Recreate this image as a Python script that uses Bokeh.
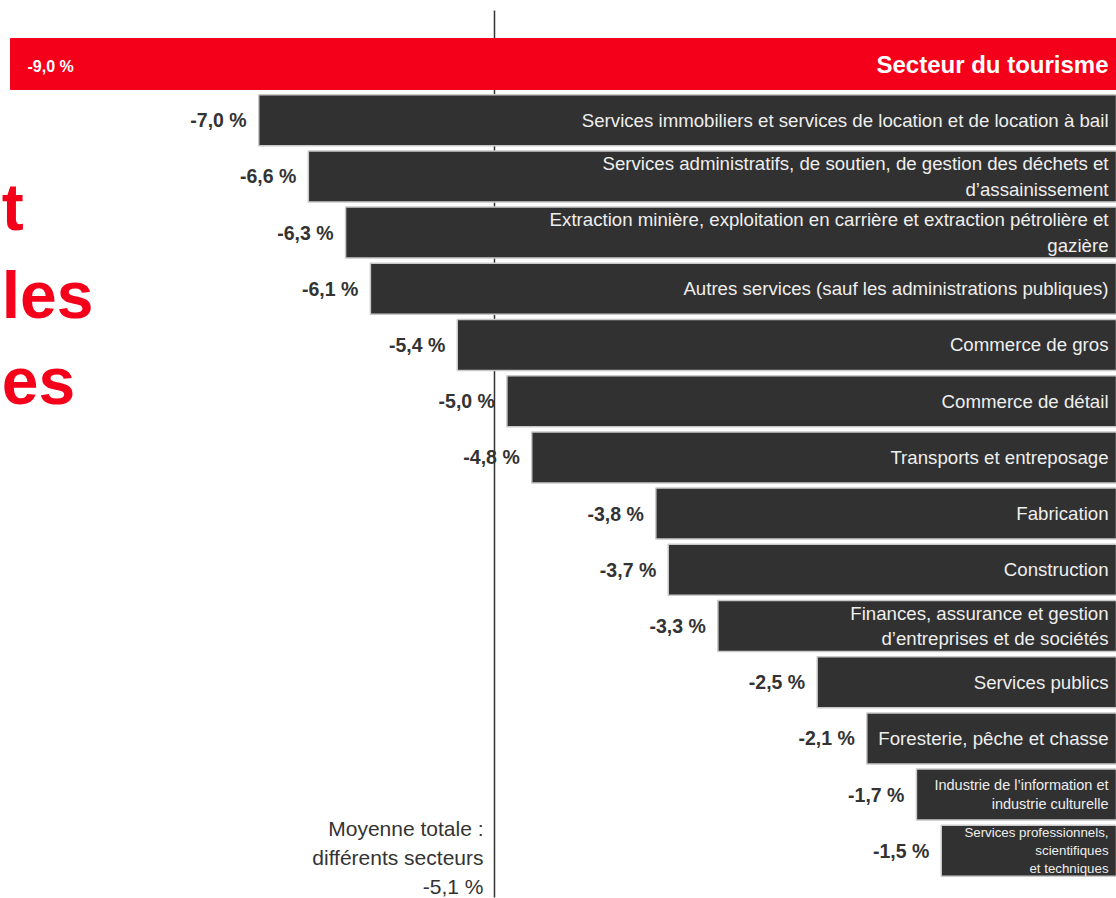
from bokeh.plotting import figure
from bokeh.models import ColumnDataSource, Range1d
from bokeh.core.properties import value
from bokeh.embed import file_html
from bokeh.resources import INLINE

# ---------------- data ----------------
sectors = [
    "Secteur du tourisme",
    "Services immobiliers et services de location et de location à bail",
    "Services administratifs, de soutien, de gestion des déchets et\nd’assainissement",
    "Extraction minière, exploitation en carrière et extraction pétrolière et\ngazière",
    "Autres services (sauf les administrations publiques)",
    "Commerce de gros",
    "Commerce de détail",
    "Transports et entreposage",
    "Fabrication",
    "Construction",
    "Finances, assurance et gestion\nd’entreprises et de sociétés",
    "Services publics",
    "Foresterie, pêche et chasse",
    "Industrie de l’information et\nindustrie culturelle",
    "Services professionnels,\nscientifiques\net techniques",
]
changes = [-9.0, -7.0, -6.6, -6.3, -6.1, -5.4, -5.0, -4.8, -3.8, -3.7, -3.3, -2.5, -2.1, -1.7, -1.5]
average_value = -5.1
average_label = "Moyenne totale :\ndifférents secteurs\n-5,1 %"
title_fragments = ["t", "les", "es"]

# ---------------- styling / layout ----------------
RED = "#F5001A"
DARK = "#313131"
TXT = "#333333"
FONT = "Liberation Sans"

W, H = 1116, 898
X_START, X_END = -9.0806, -0.0878
Y_BOTTOM, Y_TOP = 14.849, -1.130

def fmt(v):
    return f"{v:.1f}".replace(".", ",") + " %"

n = len(sectors)
idx = list(range(n))

p = figure(width=W, height=H, output_backend="svg", toolbar_location=None,
           x_range=Range1d(X_START, X_END), y_range=Range1d(Y_BOTTOM, Y_TOP),
           x_axis_type=None, y_axis_type=None, min_border=0,
           outline_line_color=None, background_fill_color="white",
           border_fill_color="white")
p.grid.visible = False

# average line (behind bars)
p.segment(x0=[average_value], x1=[average_value], y0=[-0.952], y1=[14.83],
          line_color=TXT, line_width=1.5)

# red title fragments on the left edge
frag_src = ColumnDataSource(dict(x=[X_START + 0.01] * 3, y=[2.553, 4.119, 5.632], t=title_fragments))
p.text(x="x", y="y", text="t", source=frag_src, text_align="left",
       text_baseline="alphabetic", text_color=RED, text_font=value(FONT),
       text_font_style="bold", text_font_size="66px")

# bars
dark_src = ColumnDataSource(dict(y=idx[1:], left=changes[1:], right=[0] * (n - 1)))
p.hbar(y="y", left="left", right="right", height=0.907, source=dark_src,
       fill_color=DARK, line_color="#c9c9c9", line_width=1.5)
red_src = ColumnDataSource(dict(y=idx[:1], left=changes[:1], right=[0]))
p.hbar(y="y", left="left", right="right", height=0.907, source=red_src,
       fill_color=RED, line_color=RED)

# value labels for dark bars
val_src = ColumnDataSource(dict(x=changes[1:], y=idx[1:], t=[fmt(v) for v in changes[1:]]))
p.text(x="x", y="y", text="t", source=val_src, x_offset=-12, text_align="right",
       text_baseline="middle", text_color=TXT, text_font=value(FONT),
       text_font_style="bold", text_font_size="19.5px")

# red bar labels
p.text(x=[changes[0]], y=[idx[0]], text=[fmt(changes[0])], x_offset=17, y_offset=2,
       text_align="left", text_baseline="middle", text_color="white",
       text_font=value(FONT), text_font_style="bold", text_font_size="16px")
LABEL_X = -0.152
p.text(x=[LABEL_X], y=[idx[0]], text=[sectors[0]], text_align="right",
       text_baseline="middle", text_color="white", text_font=value(FONT),
       text_font_style="bold", text_font_size="24px")

# category labels inside dark bars
big = [i for i in idx[1:] if i < 13]
cat_src = ColumnDataSource(dict(x=[LABEL_X] * len(big), y=big, t=[sectors[i] for i in big]))
p.text(x="x", y="y", text="t", source=cat_src, text_align="right",
       text_baseline="middle", text_color="#eeeeee", text_font=value(FONT),
       text_font_size="18.67px", text_line_height=1.23)

p.text(x=[LABEL_X], y=[13], text=[sectors[13]], text_align="right",
       text_baseline="middle", text_color="#eeeeee", text_font=value(FONT),
       text_font_size="14.5px", text_line_height=1.17)
p.text(x=[LABEL_X], y=[14], text=[sectors[14]], text_align="right",
       text_baseline="middle", text_color="#eeeeee", text_font=value(FONT),
       text_font_size="13.3px", text_line_height=1.2)

# average label
p.text(x=[average_value], y=[14.12], text=[average_label], x_offset=-11,
       text_align="right", text_baseline="middle", text_color=TXT,
       text_font=value(FONT), text_font_size="21px", text_line_height=1.28)

open("out.html", "w").write(file_html(p, INLINE))
